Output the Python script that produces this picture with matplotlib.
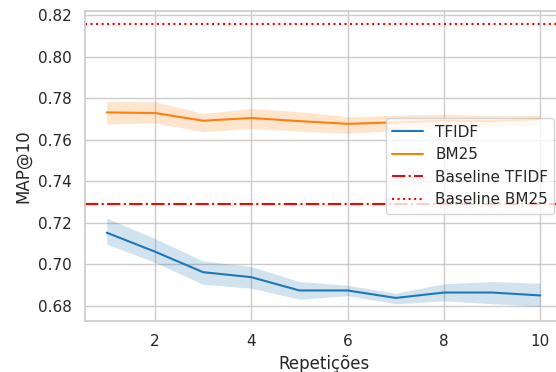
import matplotlib
matplotlib.use("Agg")
import matplotlib.pyplot as plt
import seaborn as sns

sns.set_theme(style="whitegrid")
plt.rcParams['font.family'] = ['DejaVu Sans']

repeticoes = [1, 2, 3, 4, 5, 6, 7, 8, 9, 10]

tfidf_mean = [0.7153, 0.7062, 0.6963, 0.6939, 0.6875, 0.6875, 0.6839, 0.6865, 0.6865, 0.6851]
tfidf_low = [0.7098, 0.7010, 0.6905, 0.6886, 0.6833, 0.6850, 0.6811, 0.6825, 0.6811, 0.6798]
tfidf_high = [0.7223, 0.7125, 0.7017, 0.6990, 0.6918, 0.6900, 0.6862, 0.6907, 0.6918, 0.6910]

bm25_mean = [0.7732, 0.7729, 0.7692, 0.7705, 0.7690, 0.7677, 0.7684, 0.7692, 0.7690, 0.7700]
bm25_low = [0.7676, 0.7682, 0.7639, 0.7655, 0.7642, 0.7631, 0.7645, 0.7660, 0.7662, 0.7672]
bm25_high = [0.7786, 0.7783, 0.7727, 0.7751, 0.7735, 0.7711, 0.7718, 0.7724, 0.7715, 0.7719]

baseline_tfidf = 0.7291
baseline_bm25 = 0.8157

fig = plt.figure(figsize=(5.56, 3.72), dpi=100)
ax = fig.add_axes([85 / 556, 51 / 372, 477 / 556, 310 / 372])

blue, orange = "#1f77b4", "#ff7f0e"

ax.fill_between(repeticoes, tfidf_low, tfidf_high, color=blue, alpha=0.2, linewidth=0)
ax.plot(repeticoes, tfidf_mean, color=blue, lw=1.5, label="TFIDF")
ax.fill_between(repeticoes, bm25_low, bm25_high, color=orange, alpha=0.2, linewidth=0)
ax.plot(repeticoes, bm25_mean, color=orange, lw=1.5, label="BM25")

ax.axhline(baseline_tfidf, color="red", ls="-.", lw=1.5, label="Baseline TFIDF")
ax.axhline(baseline_bm25, color="red", ls=":", lw=1.5, label="Baseline BM25")

ax.set_ylim(0.6728, 0.822)
ax.set_xlim(0.55, 10.45)
ax.set_xticks([2, 4, 6, 8, 10])
ax.set_yticks([0.68, 0.70, 0.72, 0.74, 0.76, 0.78, 0.80, 0.82])
ax.set_xlabel("Repetições", fontsize=12)
ax.set_ylabel("MAP@10", fontsize=12)
ax.tick_params(labelsize=11)

ax.legend(loc="center right", fontsize=11)

fig.savefig("out.png", dpi=100)
